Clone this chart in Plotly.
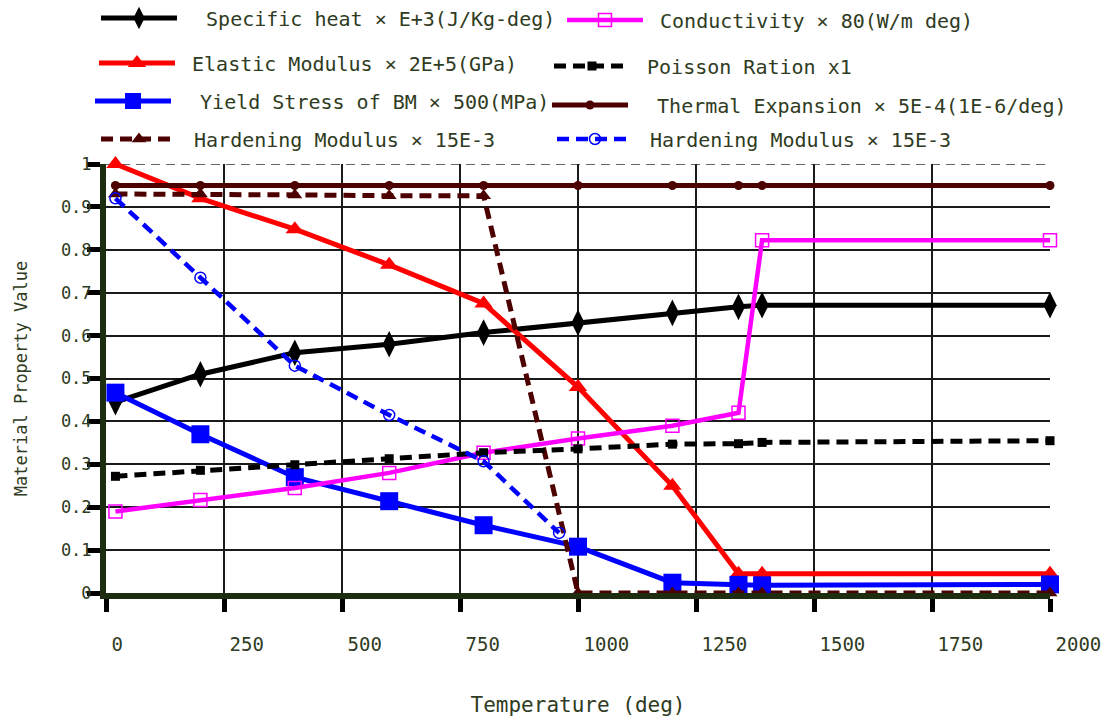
import plotly.graph_objects as go

# ---------------- data ----------------
temperature = [20, 200, 400, 600, 800, 1000, 1200, 1340, 1390, 2000]
temperature_hb = [20, 200, 400, 600, 800, 960]

specific_heat = [0.445, 0.51, 0.56, 0.58, 0.607, 0.63, 0.653, 0.667, 0.671, 0.671]
conductivity = [0.19, 0.217, 0.245, 0.28, 0.327, 0.36, 0.39, 0.42, 0.822, 0.822]
elastic_modulus = [1.0, 0.92, 0.848, 0.765, 0.675, 0.48, 0.25, 0.045, 0.045, 0.045]
poisson_ratio = [0.272, 0.286, 0.299, 0.313, 0.327, 0.336, 0.347, 0.348, 0.351, 0.355]
yield_stress = [0.467, 0.37, 0.27, 0.214, 0.158, 0.108, 0.024, 0.019, 0.018, 0.02]
thermal_expansion = [0.95, 0.95, 0.95, 0.95, 0.95, 0.95, 0.95, 0.95, 0.95, 0.95]
hardening_brown = [0.93, 0.93, 0.928, 0.926, 0.926, 0.0, 0.0, 0.0, 0.0, 0.0]
hardening_blue = [0.92, 0.735, 0.53, 0.415, 0.307, 0.14]

x_ticks = [0, 250, 500, 750, 1000, 1250, 1500, 1750, 2000]
y_ticks = [0, 0.1, 0.2, 0.3, 0.4, 0.5, 0.6, 0.7, 0.8, 0.9, 1.0]
y_ticktext = ["0", "0.1", "0.2", "0.3", "0.4", "0.5", "0.6", "0.7", "0.8", "0.9", "1"]

names = [
    "Specific heat × E+3(J/Kg-deg)",
    "Elastic Modulus × 2E+5(GPa)",
    "Yield Stress of BM × 500(MPa)",
    "Hardening Modulus × 15E-3",
    "Conductivity × 80(W/m deg)",
    "Poisson Ration x1",
    "Thermal Expansion × 5E-4(1E-6/deg)",
    "Hardening Modulus × 15E-3",
]

# ---------------- style ----------------
FONT = "DejaVu Sans Mono"
TXT = "#2f3b22"
AXC = "#1e2c10"
BROWN = "#4d0000"
W, H = 1108, 721
ML, MR, MT, MB = 106, 58, 164, 128
PW, PH = W - ML - MR, H - MT - MB
DASH = "12px,7px"
NB = "\u00a0"

fig = go.Figure()


def add(x, y, name, color, dash, symbol, size, leg, gap, lw=5, mline=None):
    marker = dict(symbol=symbol, size=size, color=color)
    if mline:
        marker["line"] = dict(color=color, width=mline)
    fig.add_trace(go.Scatter(
        x=x, y=y, name=NB * gap + name, mode="lines+markers",
        line=dict(color=color, width=lw, dash=dash),
        marker=marker, cliponaxis=False, legend=leg,
    ))


add(temperature, specific_heat, names[0], "#000000", "solid", "diamond-tall", 19, "legend", 2)
add(temperature, elastic_modulus, names[1], "#ff0000", "solid", "triangle-up", 16, "legend2", 1)
add(temperature, yield_stress, names[2], "#0000ff", "solid", "square", 18, "legend3", 2)
add(temperature, hardening_brown, names[3], BROWN, DASH, "triangle-up", 13, "legend4", 1)
add(temperature, conductivity, names[4], "#ff00ff", "solid", "square-open", 13, "legend5", 1, lw=4.5, mline=1.5)
add(temperature, poisson_ratio, names[5], "#000000", DASH, "square", 9, "legend6", 1)
add(temperature, thermal_expansion, names[6], BROWN, "solid", "circle", 9, "legend7", 2)
add(temperature_hb, hardening_blue, names[7], "#0000ff", DASH, "circle-open", 11, "legend8", 1, lw=4.5, mline=1.5)

# legends: (symbol line start x px, centre y px)
leg_pos = [(102, 18), (100, 63), (96, 101), (102, 139),
           (568, 20), (555, 66), (553, 105), (558, 139)]
ITEMW = 76
legend_layout = {}
for i, (lx, ty) in enumerate(leg_pos):
    key = "legend" if i == 0 else f"legend{i + 1}"
    legend_layout[key] = dict(
        x=(lx - 6 - ML) / PW, y=(H - MB - ty) / PH,
        xref="paper", yref="paper",
        xanchor="left", yanchor="middle",
        bgcolor="rgba(0,0,0,0)", borderwidth=0,
        itemwidth=ITEMW, itemsizing="trace",
        font=dict(family=FONT, size=20, color=TXT),
    )

fig.update_layout(
    width=W, height=H, autosize=False,
    margin=dict(l=ML, r=MR, t=MT, b=MB, autoexpand=False),
    paper_bgcolor="white", plot_bgcolor="white",
    font=dict(family=FONT, color=TXT),
    showlegend=True,
    **legend_layout,
    xaxis=dict(
        range=[0, 2000], tickvals=x_ticks, ticktext=[str(v) for v in x_ticks],
        showgrid=True, gridcolor="#1a1a1a", gridwidth=1.5,
        showline=True, linecolor=AXC, linewidth=6,
        ticks="outside", ticklen=13, tickwidth=5, tickcolor="#000000",
        ticklabelposition="outside right", ticklabelstandoff=29,
        tickfont=dict(family=FONT, size=19, color=TXT),
        zeroline=False, automargin=True,
        title=dict(text="Temperature (deg)", standoff=46,
                   font=dict(family=FONT, size=21, color=TXT)),
    ),
    yaxis=dict(
        range=[0, 1.0], tickvals=y_ticks, ticktext=y_ticktext,
        showgrid=True, gridcolor="#1a1a1a", gridwidth=1.5,
        showline=True, linecolor=AXC, linewidth=6,
        ticks="outside", ticklen=13, tickwidth=5, tickcolor="#000000",
        ticklabelstandoff=-8,
        tickfont=dict(family=FONT, size=17, color=TXT),
        zeroline=False, automargin=True,
        title=dict(text="Material Property Value", standoff=31,
                   font=dict(family=FONT, size=17, color=TXT)),
    ),
    shapes=[
        dict(type="line", xref="x", yref="y", x0=0, x1=2000, y0=1.0, y1=1.0,
             line=dict(color="white", width=3), layer="below"),
        dict(type="line", xref="x", yref="y", x0=0, x1=2000, y0=1.0, y1=1.0,
             line=dict(color="#333333", width=1.3, dash="9px,6px"), layer="below"),
    ],
)

fig.write_html("out.html")
